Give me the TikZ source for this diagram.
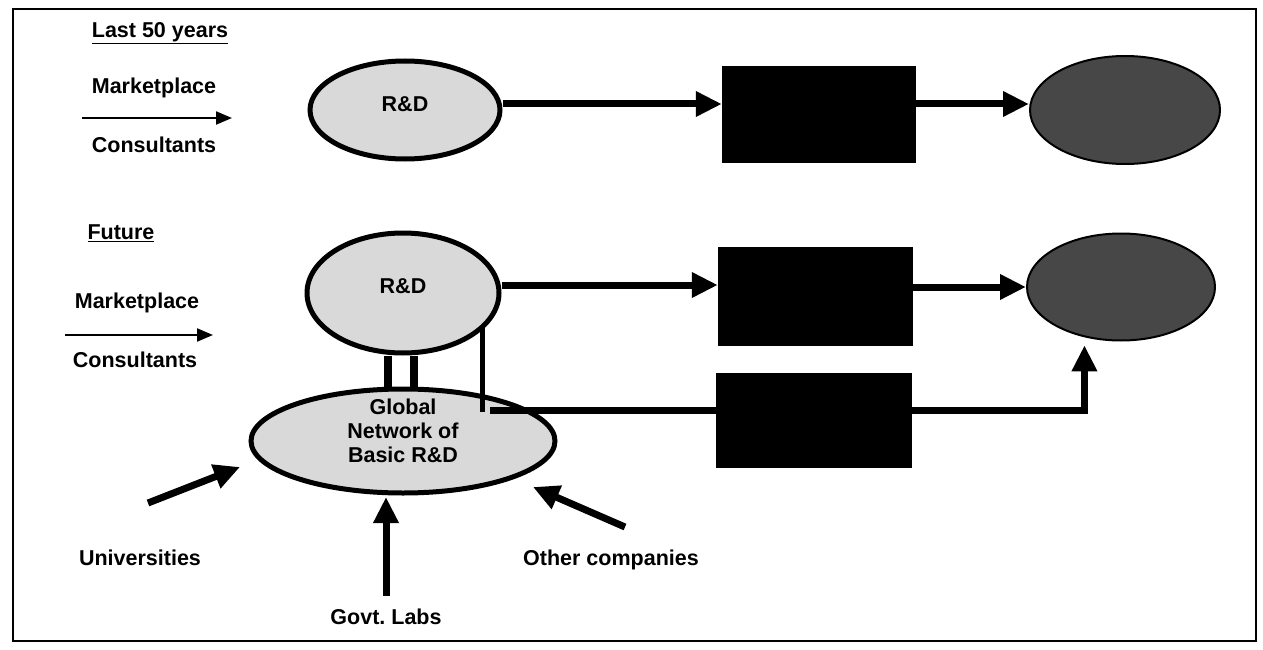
\documentclass[tikz,border=0pt]{standalone}
\usepackage{fontspec}
\setmainfont{Liberation Sans}
\usetikzlibrary{shapes.geometric,arrows.meta}
\begin{document}
\begin{tikzpicture}[x=1pt,y=-1pt,
  lbl/.style={font=\bfseries\fontsize{21.5}{24}\selectfont, inner sep=0pt, align=center},
  light/.style={ellipse, draw, line width=5pt, fill=black!15, inner sep=0pt},
  dark/.style={ellipse, draw, line width=2pt, fill=black!72, inner sep=0pt},
  blk/.style={rectangle, fill=black, draw=none, inner sep=0pt},
  bigarrow/.style={line width=7pt, line join=miter, -{Triangle[length=26pt,width=24pt]}},
  thinarrow/.style={line width=2.2pt, -{Triangle[length=16pt,width=13pt]}},
  link/.style={line width=7pt},
  bar/.style={line width=8pt}]
\useasboundingbox (0,0) rectangle (1263,650);
\draw[line width=2.5pt] (13,9) rectangle (1256,641);

% Last 50 years
\node[lbl] (t1) at (160,33) {\underline{Last 50 years}};
\node[lbl] (m1) at (154,88) {Marketplace};
\node[lbl] (c1) at (154,145) {Consultants};
\coordinate (a1s) at (82,118);
\coordinate (a1e) at (232,118);
\draw[thinarrow] (a1s) -- (a1e);

\node[light, minimum width=190pt, minimum height=98pt] (rd1) at (405,110) {};
\node[lbl] (rd1t) at (405,104) {R\&D};
\node[blk, minimum width=194pt, minimum height=97pt] (b1) at (819,114.5) {};
\node[dark, minimum width=190pt, minimum height=108pt] (d1) at (1125,110) {};
\draw[bigarrow] ([yshift=6pt]rd1.east) -- ([yshift=6pt]rd1.east -| b1.west);
\draw[bigarrow] ([yshift=6pt]b1.east |- d1.west) -- ([yshift=6pt]d1.west);

% Future
\node[lbl] (t2) at (121,233) {\underline{Future}};
\node[lbl] (m2) at (137,303) {Marketplace};
\node[lbl] (c2) at (135,360) {Consultants};
\coordinate (a2s) at (65,335);
\coordinate (a2e) at (213,335);
\draw[thinarrow] (a2s) -- (a2e);

\node[light, minimum width=192pt, minimum height=120pt] (rd2) at (403,293) {};
\node[lbl] (rd2t) at (403,286) {R\&D};
\node[blk, minimum width=195pt, minimum height=99pt] (b2) at (815.5,296.5) {};
\node[dark, minimum width=188pt, minimum height=107pt] (d2) at (1121,287) {};
\node[blk, minimum width=196pt, minimum height=95pt] (b3) at (814,420.5) {};
\node[light, minimum width=304pt, minimum height=104pt] (glob) at (403,441) {};
\node[lbl] (globt) at (403,431) {Global\\Network of\\Basic R\&D};

\draw[bigarrow] ([yshift=8pt]rd2.east) -- ([yshift=8pt]rd2.east -| b2.west);
\draw[bigarrow] (b2.east |- d2.west) -- (d2.west);

\draw[bar] ([xshift=-15pt]rd2.south) -- ([xshift=-15pt]glob.north);
\draw[bar] ([xshift=11pt]rd2.south) -- ([xshift=11pt]glob.north);

\coordinate (jv) at (482,412);
\draw[line width=5pt] (jv |- rd2.-23) -- (jv);
\coordinate (jh) at (490,410);
\draw[link] (jh) -- (jh -| b3.west);
\draw[bigarrow] (b3.east |- jh) -| ([yshift=-8pt]d2.234);

% sources
\node[lbl] (un) at (140,558) {Universities};
\node[lbl] (gl) at (386,617) {Govt.\ Labs};
\node[lbl] (oc) at (611,560) {Other companies};
\coordinate (u1) at (148,503);
\coordinate (u2) at (240,467);
\draw[bigarrow] (u1) -- (u2);
\coordinate (g1) at (386,596);
\coordinate (g2) at (386,497);
\draw[bigarrow] (g1) -- (g2);
\coordinate (o1) at (625,527);
\coordinate (o2) at (533,487);
\draw[bigarrow] (o1) -- (o2);
\end{tikzpicture}
\end{document}
